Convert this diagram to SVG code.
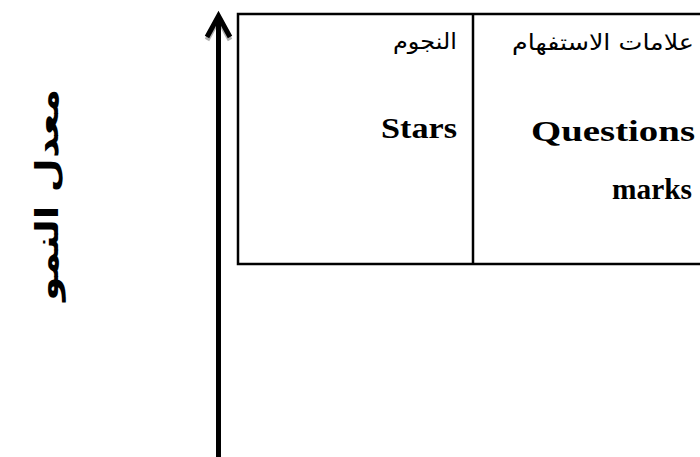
<svg xmlns="http://www.w3.org/2000/svg" width="700" height="457" viewBox="0 0 700 457">
<style>
.en{font-family:"Liberation Serif",serif;font-weight:bold;font-size:30px;fill:#000}
.ar{font-family:"DejaVu Sans","Noto Sans",sans-serif;font-size:22px;fill:#000}
.arv{font-family:"DejaVu Sans","Noto Sans",sans-serif;font-weight:bold;font-size:31px;fill:#000}
.box{fill:none;stroke:#000;stroke-width:2.5}
</style>
<rect width="700" height="457" fill="#fff"/>
<g id="axis-label">
<text class="arv" transform="translate(58,195) rotate(-90)" x="0" y="0" text-anchor="middle" textLength="212" lengthAdjust="spacingAndGlyphs">معدل النمو</text>
</g>
<g id="connectors">
<path d="M207,40 L218.5,19 L230,40" fill="none" stroke="#b0b0b0" stroke-width="5" stroke-linejoin="miter"/>
<line x1="218.5" y1="457" x2="218.5" y2="18" stroke="#000" stroke-width="5"/>
<path d="M207,37 L218.5,16 L230,37" fill="none" stroke="#000" stroke-width="5" stroke-linejoin="miter"/>
</g>
<g id="matrix">
<rect class="box" x="238" y="14" width="480" height="250"/>
<line class="box" x1="473" y1="14" x2="473" y2="264"/>
</g>
<g id="stars">
<text class="ar" x="425" y="49" text-anchor="middle" textLength="64" lengthAdjust="spacingAndGlyphs">النجوم</text>
<text class="en" x="381" y="138" textLength="76" lengthAdjust="spacingAndGlyphs">Stars</text>
</g>
<g id="question-marks">
<text class="ar" x="603" y="50" text-anchor="middle" textLength="182" lengthAdjust="spacingAndGlyphs">علامات الاستفهام</text>
<text class="en" x="531" y="141" textLength="164" lengthAdjust="spacingAndGlyphs">Questions</text>
<text class="en" x="612" y="199" textLength="80" lengthAdjust="spacingAndGlyphs">marks</text>
</g>
</svg>
